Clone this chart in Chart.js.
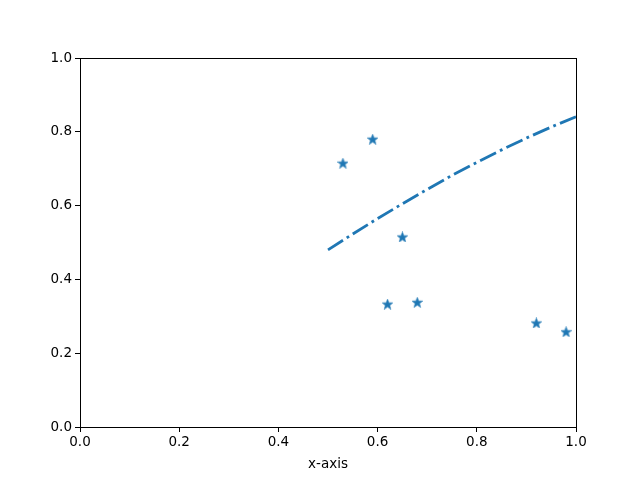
<!DOCTYPE html>
<html>
<head>
<meta charset="utf-8">
<script src="https://cdn.jsdelivr.net/npm/chart.js@4"></script>
<style>
  html, body { margin: 0; padding: 0; background: #fff; }
  #wrap { width: 640px; height: 480px; }
</style>
</head>
<body>
<div id="wrap"><canvas id="chart" width="640" height="480"></canvas></div>
<script>
// scatter stars
const starX = [0.53, 0.59, 0.65, 0.62, 0.68, 0.92, 0.98];
const starY = [0.715, 0.78, 0.515, 0.333, 0.338, 0.282, 0.258];

// dash-dot curve
const lineX = [0.5, 0.55, 0.6, 0.65, 0.7, 0.75, 0.8, 0.85, 0.9, 0.95, 1.0];
const lineY = [0.48, 0.523, 0.565, 0.605, 0.644, 0.682, 0.717, 0.751, 0.783, 0.813, 0.841];

const axisTicks = [0, 0.2, 0.4, 0.6, 0.8, 1.0];
const blue = '#1f77b4';

function makeStar(size) {
  const c = document.createElement('canvas');
  c.width = size;
  c.height = size;
  const g = c.getContext('2d');
  const cx = size / 2, cy = size / 2 + 0.5;
  const outer = size / 2, inner = outer * 0.42;
  g.beginPath();
  for (let i = 0; i < 10; i++) {
    const r = i % 2 === 0 ? outer : inner;
    const a = -Math.PI / 2 + i * Math.PI / 5;
    const px = cx + r * Math.cos(a);
    const py = cy + r * Math.sin(a);
    if (i === 0) g.moveTo(px, py); else g.lineTo(px, py);
  }
  g.closePath();
  g.fillStyle = blue;
  g.fill();
  g.strokeStyle = blue;
  g.lineWidth = 0.6;
  g.stroke();
  return c;
}

const starImg = makeStar(11);

const frame = {
  id: 'frame',
  afterDraw(chart) {
    const a = chart.chartArea;
    const ctx = chart.ctx;
    ctx.save();
    ctx.strokeStyle = '#000';
    ctx.lineWidth = 1;
    ctx.strokeRect(Math.round(a.left) + 0.5, Math.round(a.top) + 0.5,
      Math.round(a.right - a.left), Math.round(a.bottom - a.top));
    ctx.restore();
  }
};

const tickFont = { family: 'DejaVu Sans', size: 13.5 };

new Chart(document.getElementById('chart'), {
  type: 'scatter',
  data: {
    datasets: [
      {
        data: lineX.map((x, i) => ({ x: x, y: lineY[i] })),
        showLine: true,
        borderColor: blue,
        borderWidth: 2.8,
        borderDash: [17.8, 4.4, 2.8, 4.4],
        borderCapStyle: 'butt',
        pointRadius: 0,
        fill: false
      },
      {
        data: starX.map((x, i) => ({ x: x, y: starY[i] })),
        pointStyle: starImg,
        pointRadius: 5.5,
        showLine: false
      }
    ]
  },
  options: {
    responsive: false,
    animation: false,
    layout: { padding: { top: 58, right: 64, left: 0, bottom: 0 } },
    plugins: { legend: { display: false }, tooltip: { enabled: false } },
    scales: {
      x: {
        type: 'linear',
        min: 0,
        max: 1,
        afterBuildTicks: s => { s.ticks = axisTicks.map(v => ({ value: v })); },
        afterFit: s => { s.height = 53; },
        grid: { drawOnChartArea: false, color: '#000', tickLength: 5, tickWidth: 1 },
        border: { color: '#000' },
        ticks: { color: '#000', font: tickFont, padding: 2, maxRotation: 0,
          callback: v => v.toFixed(1) },
        title: { display: true, text: 'x-axis', color: '#000', font: tickFont, padding: { top: 0, bottom: 7 } }
      },
      y: {
        type: 'linear',
        min: 0,
        max: 1,
        afterBuildTicks: s => { s.ticks = axisTicks.map(v => ({ value: v })); },
        afterFit: s => { s.width = 80; },
        grid: { drawOnChartArea: false, color: '#000', tickLength: 5, tickWidth: 1 },
        border: { color: '#000' },
        ticks: { color: '#000', font: tickFont, padding: 3,
          callback: v => v.toFixed(1) }
      }
    }
  },
  plugins: [frame]
});
</script>
</body>
</html>
